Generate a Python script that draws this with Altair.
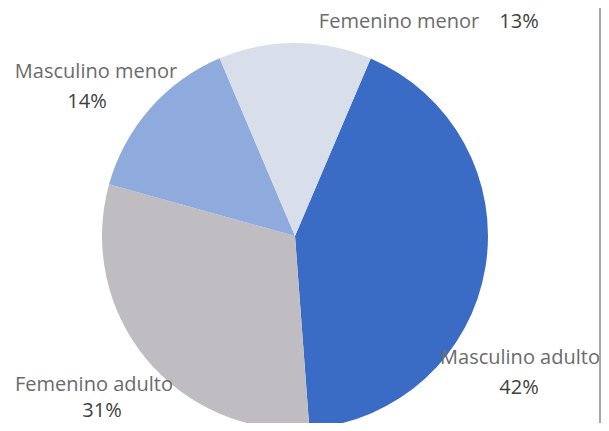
import altair as alt
import pandas as pd

# data
categories = ["Masculino adulto", "Femenino adulto", "Masculino menor", "Femenino menor"]
values = [42.4, 30.5, 14.3, 12.8]
pct_labels = ["42%", "31%", "14%", "13%"]
colors = ["#3B6CC5", "#BFBDC2", "#8FAADC", "#D9DEEB"]

df = pd.DataFrame({"cat": categories, "val": values, "ord": list(range(len(categories)))})

start = 0.403
W, H = 593, 415
CX, CY, R = 287, 228, 193

base = alt.Chart(df)
pie = base.mark_arc(radius=R, stroke=None).encode(
    theta=alt.Theta("val:Q", stack=True, scale=alt.Scale(range=[start, start + 2 * 3.141592653589793])),
    color=alt.Color("cat:N", scale=alt.Scale(domain=categories, range=colors), legend=None),
    order=alt.Order("ord:Q"),
    x=alt.value(CX), y=alt.value(CY),
)

FONT = "Open Sans"
NAME_C = "#6B6B6B"
PCT_C = "#404040"
FS = 20

# label layout (pixel positions in chart space)
label_layout = {
    "Masculino adulto": [(512, 350), (511, 380)],
    "Femenino adulto": [(86, 377), (94, 403)],
    "Masculino menor": [(88, 64), (79, 94)],
    "Femenino menor": [(391, 14), (511, 14)],
}

layers = [pie]
for i, c in enumerate(categories):
    (nx, ny), (px, py) = label_layout[c]
    d = df[df.cat == c].assign(pct=pct_labels[i])
    layers.append(alt.Chart(d).mark_text(font=FONT, fontSize=FS, color=NAME_C, baseline="middle", align="center").encode(
        text="cat:N", x=alt.value(nx), y=alt.value(ny)))
    layers.append(alt.Chart(d).mark_text(font=FONT, fontSize=FS, color=PCT_C, baseline="middle", align="center").encode(
        text="pct:N", x=alt.value(px), y=alt.value(py)))

edge = alt.Chart(df.head(1)).mark_rule(color="#A6A6A6", strokeWidth=2).encode(
    x=alt.value(592), y=alt.value(-8), y2=alt.value(H))
layers.append(edge)

chart = alt.layer(*layers).properties(
    width=W, height=H, padding=0, autosize=alt.AutoSizeParams(type="none"),
    background="white"
).configure_view(stroke=None)

chart.save("out.html", embed_options={"renderer": "svg", "actions": False})
